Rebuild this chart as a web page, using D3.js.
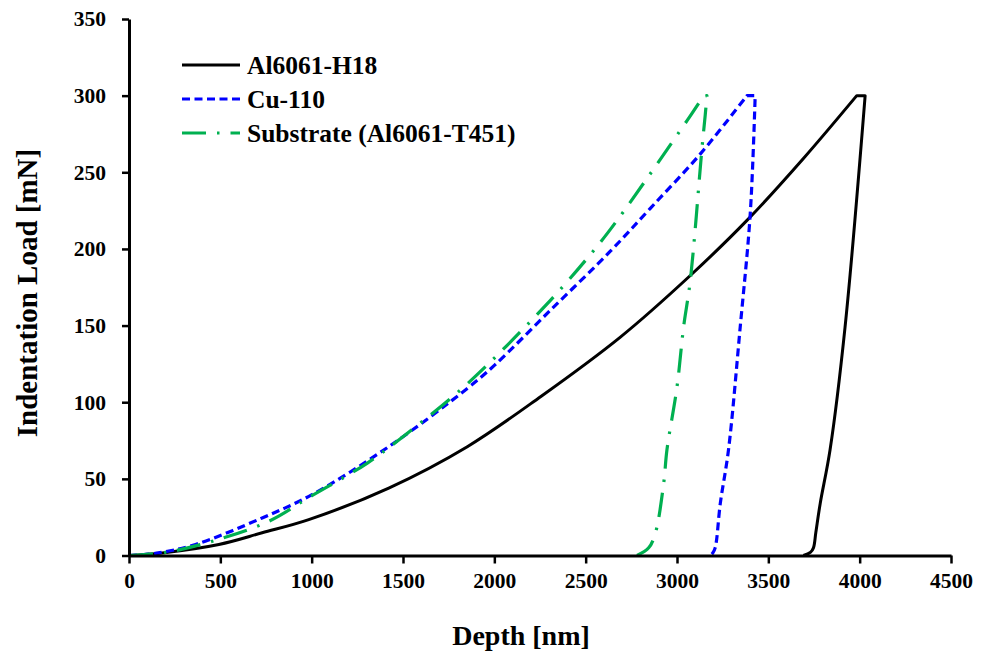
<!DOCTYPE html>
<html>
<head>
<meta charset="utf-8">
<script src="https://cdn.jsdelivr.net/npm/d3@7"></script>
<style>
  html, body { margin: 0; padding: 0; background: #fff; }
  svg { display: block; }
  text { font-family: "Liberation Serif", "Times New Roman", serif; font-weight: bold; fill: #000; }
</style>
</head>
<body>
<svg id="chart" width="989" height="651"></svg>
<script>
// ---- Data ----
const seriesNames = ["Al6061-H18", "Cu-110", "Substrate (Al6061-T451)"];

// loading branch, then unloading branch (depth in nm, load in mN)
const h18LoadDepth = [0, 182, 492, 729, 984, 1422, 1852, 2253, 2690, 3064, 3383, 3692, 3984];
const h18LoadLoad  = [0, 1.7, 7.2, 14.8, 23.4, 44, 71, 103.6, 142.5, 181.7, 218.6, 259, 300];
const h18UnDepth = [4030, 3920, 3838, 3784, 3760, 3747, 3730, 3692];
const h18UnLoad  = [300, 149, 69, 34, 15, 5, 2, 0];

const cuLoadDepth = [0, 150, 364, 729, 1002, 1422, 1852, 2000, 2307, 2635, 2854, 3128, 3383];
const cuLoadLoad  = [0, 1.5, 7.2, 24.5, 39.7, 71, 109, 124, 160, 198.5, 226.5, 262, 300];
const cuUnDepth = [3428, 3401, 3346, 3282, 3237, 3209, 3195, 3182];
const cuUnLoad  = [300, 223, 149, 69, 34, 5, 1.5, 0];

const subLoadDepth = [0, 200, 456, 765, 995, 1305, 1524, 1852, 2307, 2544, 2672, 3055, 3146];
const subLoadLoad  = [0, 2, 9.3, 22.3, 38.6, 60.3, 79.8, 112, 166.5, 199, 218.6, 283.7, 300];
const subUnDepth = [3164, 3155, 3137, 3073, 3036, 3000, 2945, 2927, 2882, 2845, 2781];
const subUnLoad  = [300, 288, 266, 179.6, 149, 110, 69, 47, 14.8, 5, 0];

const xTicks = [0, 500, 1000, 1500, 2000, 2500, 3000, 3500, 4000, 4500];
const yTicks = [0, 50, 100, 150, 200, 250, 300, 350];

// ---- Layout ----
const svg = d3.select("#chart");
const x = d3.scaleLinear().domain([0, 4500]).range([129, 951]);
const y = d3.scaleLinear().domain([0, 350]).range([555.5, 19]);

const series = [
  { name: seriesNames[0], ld: h18LoadDepth, ll: h18LoadLoad, ud: h18UnDepth, ul: h18UnLoad, color: "#000000", width: 3, dash: null },
  { name: seriesNames[1], ld: cuLoadDepth, ll: cuLoadLoad, ud: cuUnDepth, ul: cuUnLoad, color: "#0000FF", width: 3.2, dash: "8,4.5" },
  { name: seriesNames[2], ld: subLoadDepth, ll: subLoadLoad, ud: subUnDepth, ul: subUnLoad, color: "#00B050", width: 3.2, dash: "24,11,2.5,11" }
];

const smooth = d3.line()
  .x(d => x(d[0]))
  .y(d => y(d[1]))
  .curve(d3.curveCatmullRom.alpha(0.5));

series.forEach(s => {
  const loadPts = s.ld.map((d, i) => [d, s.ll[i]]);
  const unPts = s.ud.map((d, i) => [d, s.ul[i]]);
  const p1 = smooth(loadPts);
  const p2 = smooth(unPts).replace(/^M/, "L");
  svg.append("path")
    .attr("d", p1 + p2)
    .attr("fill", "none")
    .attr("stroke", s.color)
    .attr("stroke-width", s.width)
    .attr("stroke-linejoin", "round")
    .attr("stroke-dasharray", s.dash);
});

// Axes
const xAxis = d3.axisBottom(x).tickValues(xTicks).tickFormat(d3.format("d")).tickSize(8).tickSizeOuter(0).tickPadding(9);
const yAxis = d3.axisLeft(y).tickValues(yTicks).tickFormat(d3.format("d")).tickSize(7).tickSizeOuter(0).tickPadding(16);

const gx = svg.append("g").attr("transform", `translate(0,${y(0)})`).call(xAxis);
const gy = svg.append("g").attr("transform", `translate(${x(0)},0)`).call(yAxis);

[gx, gy].forEach(g => {
  g.select(".domain").attr("stroke", "#000").attr("stroke-width", 3);
  g.selectAll(".tick line").attr("stroke", "#000").attr("stroke-width", 2.5);
  g.selectAll(".tick text")
    .style("font-family", '"Liberation Serif", serif')
    .style("font-weight", "bold")
    .style("font-size", "21.5px")
    .attr("fill", "#000");
});

// Axis titles
svg.append("text")
  .attr("x", 521).attr("y", 645)
  .attr("text-anchor", "middle")
  .style("font-size", "28px")
  .text("Depth [nm]");

svg.append("text")
  .attr("transform", "translate(37,293) rotate(-90)")
  .attr("text-anchor", "middle")
  .style("font-size", "29px")
  .text("Indentation Load [mN]");

// Legend
const legendY = [65, 99, 133];
series.forEach((s, i) => {
  svg.append("line")
    .attr("x1", 182).attr("x2", 240)
    .attr("y1", legendY[i]).attr("y2", legendY[i])
    .attr("stroke", s.color)
    .attr("stroke-width", s.width)
    .attr("stroke-dasharray", s.dash);
  svg.append("text")
    .attr("x", 247).attr("y", legendY[i] + 8.5)
    .style("font-size", "25.5px")
    .text(s.name);
});
</script>
</body>
</html>
